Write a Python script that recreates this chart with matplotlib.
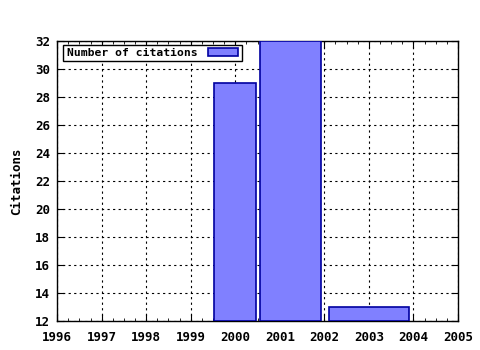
import matplotlib
matplotlib.use("Agg")
import matplotlib.pyplot as plt
from matplotlib.ticker import MultipleLocator

# bars: start and end on the year axis, and height
bar_start = [1999.53, 2000.55, 2002.1]
bar_end = [2000.46, 2001.92, 2003.9]
citations = [29, 32, 13]
years = list(range(1996, 2006))
yticks = list(range(12, 33, 2))

plt.rcParams['font.family'] = ['DejaVu Sans Mono']
plt.rcParams['font.weight'] = 'bold'

fig = plt.figure(figsize=(4.8, 3.5), dpi=100)
ax = fig.add_axes([0.119, 0.083, 0.835, 0.8])

widths = [e - s for s, e in zip(bar_start, bar_end)]
ax.bar(bar_start, [c - 12 for c in citations], width=widths, bottom=12, align='edge',
       color='#8080ff', edgecolor='#0000a0', linewidth=1.2, label='Number of citations', zorder=3)

ax.set_xlim(1996, 2005)
ax.set_ylim(12, 32)
ax.set_xticks(years)
ax.set_yticks(yticks)
ax.xaxis.set_minor_locator(MultipleLocator(0.25))
ax.tick_params(which='both', direction='in', top=True, right=True, labelsize=9)
ax.tick_params(axis='x', pad=7)
ax.tick_params(axis='y', pad=5)
ax.tick_params(which='major', length=5)
ax.tick_params(which='minor', length=2.5)
for lab in ax.get_xticklabels() + ax.get_yticklabels():
    lab.set_fontweight('bold')
ax.grid(True, which='major', linestyle=(0, (2, 3)), color='black', linewidth=0.8, zorder=0)
for s in ax.spines.values():
    s.set_linewidth(1)
ax.set_ylabel('Citations', fontsize=9, fontweight='bold', labelpad=9)

leg = ax.legend(loc='upper left', bbox_to_anchor=(0.01, 0.995), fontsize=8.2, frameon=True,
                fancybox=False, edgecolor='black', framealpha=1, handlelength=2.7,
                handleheight=0.6, borderpad=0.3, handletextpad=0.9, markerfirst=False,
                borderaxespad=0.2)
leg.get_frame().set_linewidth(1)
for t in leg.get_texts():
    t.set_fontweight('bold')

fig.savefig('out.png', dpi=100)
